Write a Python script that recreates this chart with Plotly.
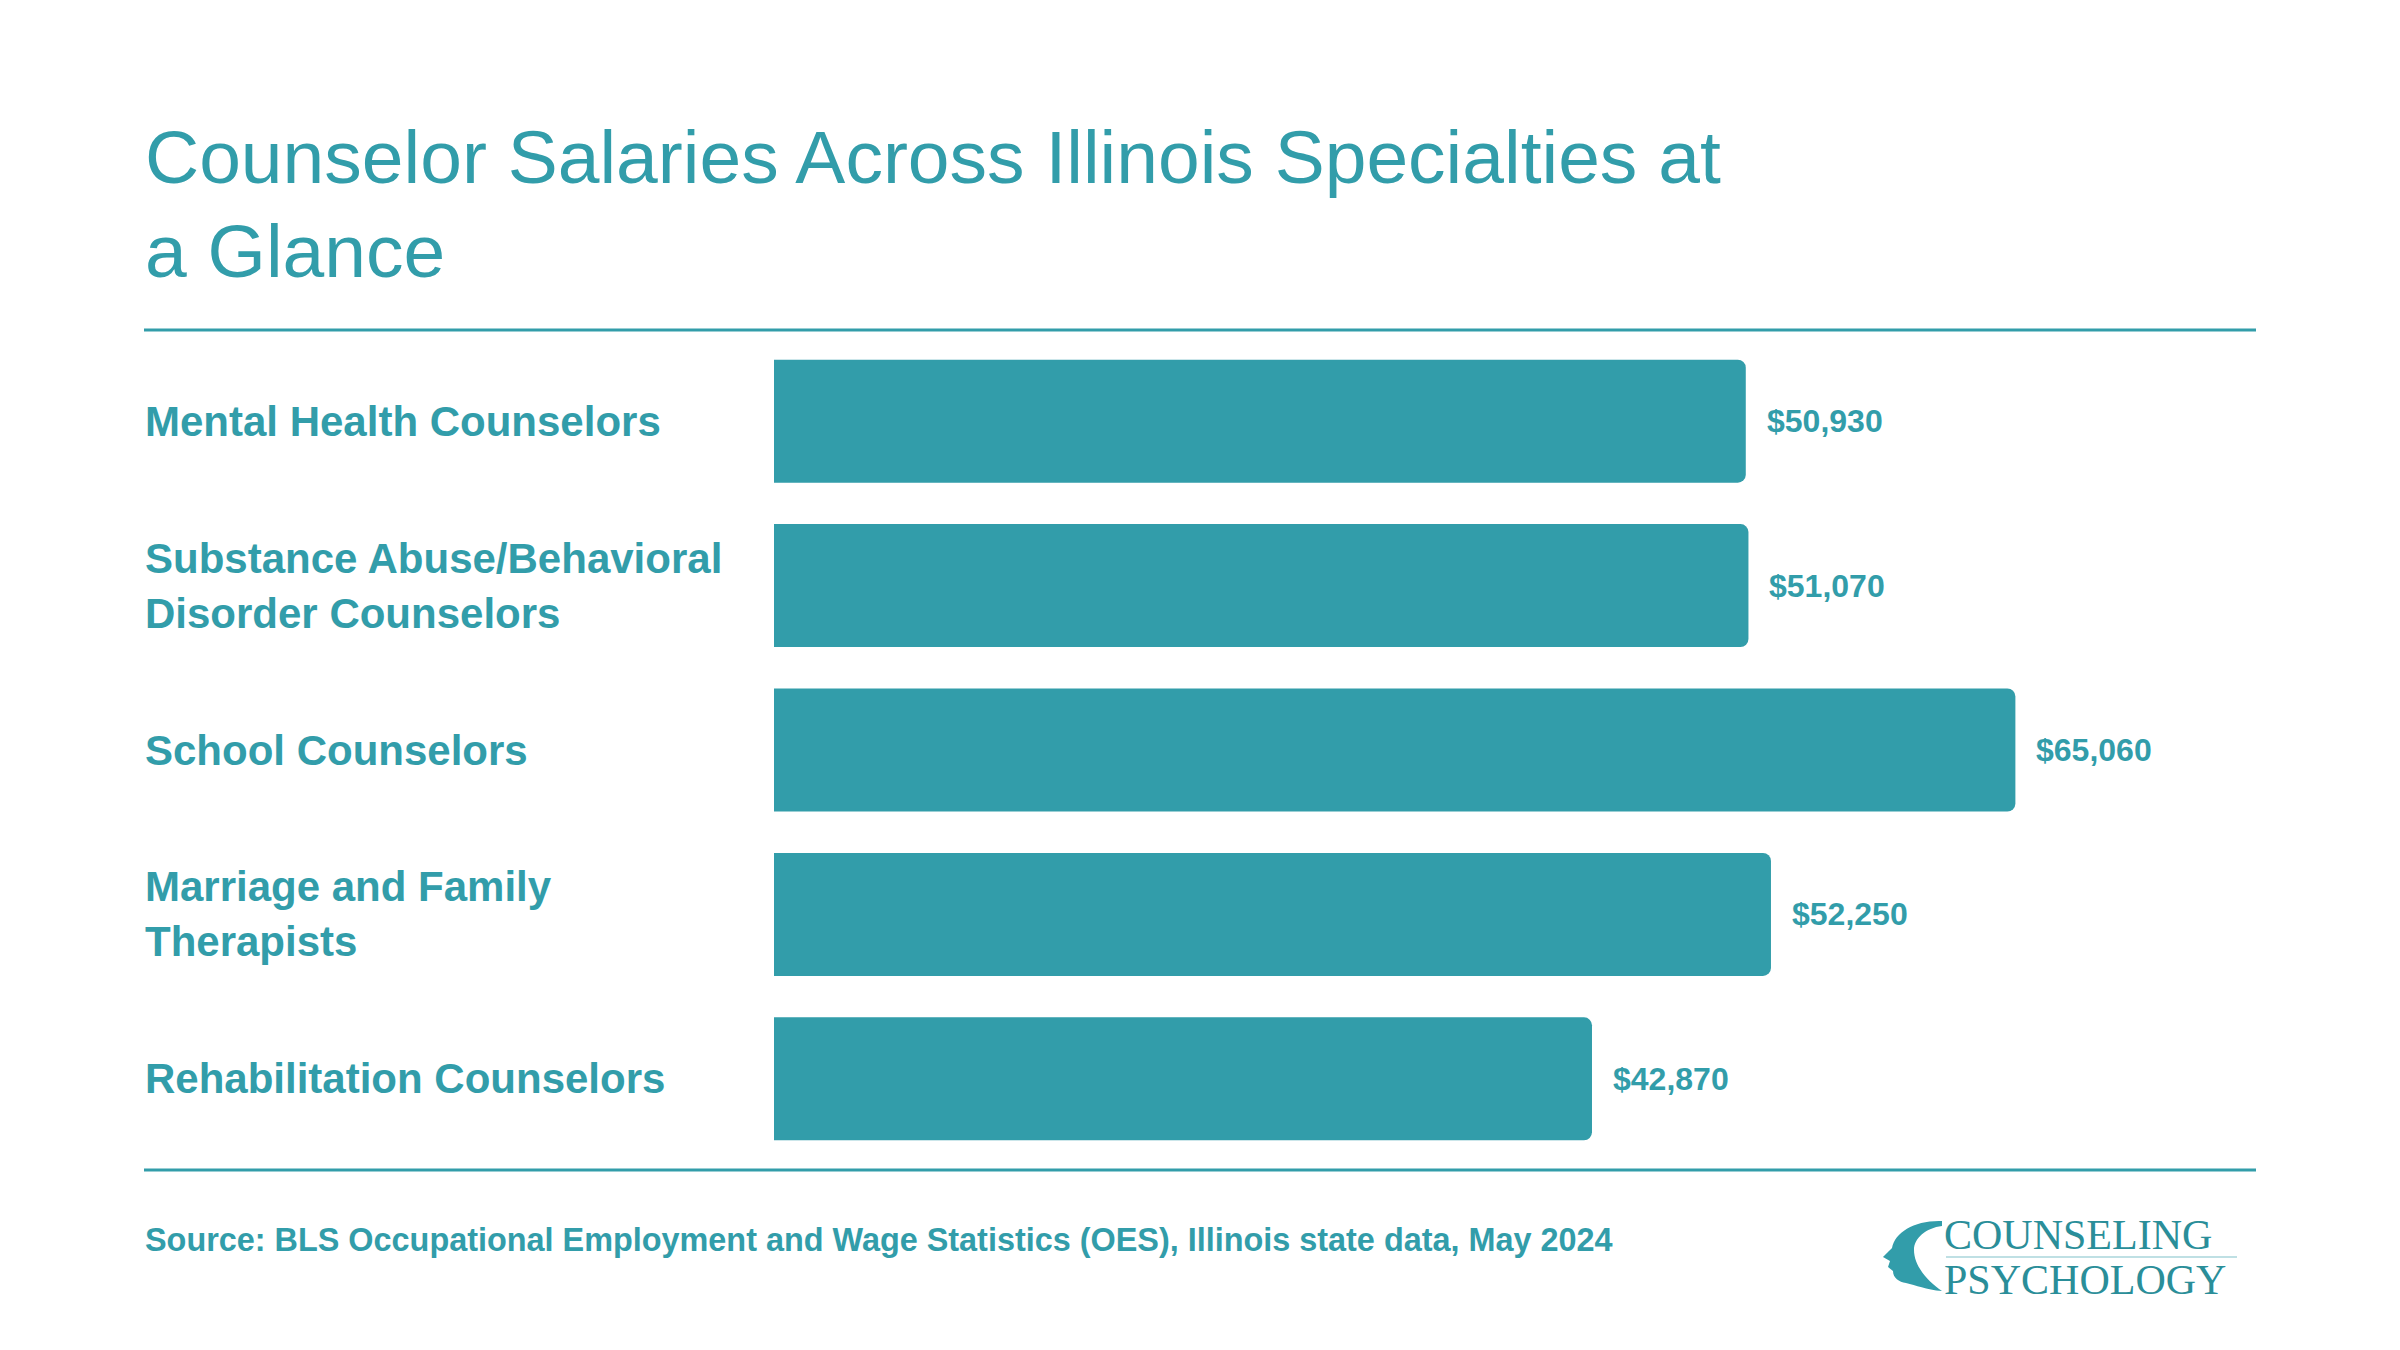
import plotly.graph_objects as go

# ---------------- data ----------------
categories = [
    "Mental Health Counselors",
    "Substance Abuse/Behavioral<br>Disorder Counselors",
    "School Counselors",
    "Marriage and Family<br>Therapists",
    "Rehabilitation Counselors",
]
salaries = [50930, 51070, 65060, 52250, 42870]
value_labels = ["$50,930", "$51,070", "$65,060", "$52,250", "$42,870"]

title_lines = ["Counselor Salaries Across Illinois Specialties at", "a Glance"]
source_text = "Source: BLS Occupational Employment and Wage Statistics (OES), Illinois state data, May 2024"

# ---------------- layout constants ----------------
W, H = 2400, 1350
ML, MR, MT, MB = 774, 144, 339, 189
PW, PH = W - ML - MR, H - MT - MB
TEAL = "#329DAA"
DARK_TEAL = "#2A8E99"
FONT = "Liberation Sans, Arial, Helvetica, sans-serif"
SERIF = "Liberation Serif, Times New Roman, serif"


def px_x(x):
    return (x - ML) / PW


def px_y(y):
    return (H - MB - y) / PH


fig = go.Figure()
fig.add_trace(go.Bar(
    x=salaries,
    y=categories,
    orientation="h",
    marker=dict(color=TEAL, cornerradius=8, line=dict(width=0)),
    hoverinfo="skip",
))

annotations = []
# title (two lines, exact spacing)
for i, line in enumerate(title_lines):
    annotations.append(dict(
        text=line, x=px_x(143), xref="paper", y=px_y(157 + 94 * i), yref="paper",
        xanchor="left", yanchor="middle", showarrow=False,
        font=dict(family=FONT, size=75, color=TEAL),
    ))
# category labels (left aligned)
for c in categories:
    annotations.append(dict(
        text=c, x=px_x(143), xref="paper", y=c, yref="y",
        xanchor="left", yanchor="middle", align="left", showarrow=False,
        font=dict(family=FONT, size=42, color=TEAL, weight="bold"),
    ))
# value labels
for c, v, lab in zip(categories, salaries, value_labels):
    annotations.append(dict(
        text=lab, x=v, xref="x", y=c, yref="y",
        xanchor="left", yanchor="middle", xshift=19, showarrow=False,
        font=dict(family=FONT, size=32, color=TEAL, weight="bold"),
    ))
# source
annotations.append(dict(
    text=source_text, x=px_x(143), xref="paper", y=px_y(1240), yref="paper",
    xanchor="left", yanchor="middle", showarrow=False,
    font=dict(family=FONT, size=32.4, color=TEAL, weight="bold"),
))
# logo text
annotations.append(dict(
    text="COUNSELING", x=px_x(1942), xref="paper", y=px_y(1235), yref="paper",
    xanchor="left", yanchor="middle", showarrow=False,
    font=dict(family=SERIF, size=42, color=DARK_TEAL),
))
annotations.append(dict(
    text="PSYCHOLOGY", x=px_x(1942), xref="paper", y=px_y(1280), yref="paper",
    xanchor="left", yanchor="middle", showarrow=False,
    font=dict(family=SERIF, size=42, color=DARK_TEAL),
))

shapes = []
for yy in (330, 1170):
    shapes.append(dict(
        type="line", xref="paper", yref="paper",
        x0=px_x(144), x1=px_x(2256), y0=px_y(yy), y1=px_y(yy),
        line=dict(color=TEAL, width=3),
    ))
# logo separator line
shapes.append(dict(
    type="line", xref="paper", yref="paper",
    x0=px_x(1946), x1=px_x(2237), y0=px_y(1257), y1=px_y(1257),
    line=dict(color="#BFE0E4", width=2),
))

# logo head silhouette (decoration)
head_cmds = [
    ("M", [(1942, 1221)]),
    ("C", [(1915, 1220), (1895, 1232), (1892, 1248)]),
    ("L", [(1883, 1257)]),
    ("L", [(1890, 1261)]),
    ("L", [(1888, 1267)]),
    ("L", [(1893, 1271)]),
    ("C", [(1893, 1278), (1899, 1282), (1906, 1283)]),
    ("C", [(1916, 1285), (1926, 1290), (1942, 1291)]),
    ("C", [(1926, 1280), (1914, 1265), (1914, 1250)]),
    ("C", [(1914, 1238), (1926, 1228), (1942, 1226)]),
]
path = ""
for cmd, pts in head_cmds:
    path += cmd + " " + " ".join(f"{px_x(a):.5f},{px_y(b):.5f}" for a, b in pts) + " "
path += "Z"
shapes.append(dict(type="path", xref="paper", yref="paper", path=path,
                   fillcolor=TEAL, line=dict(width=0)))

fig.update_layout(
    width=W, height=H,
    margin=dict(l=ML, r=MR, t=MT, b=MB, pad=0),
    paper_bgcolor="white", plot_bgcolor="white",
    showlegend=False,
    bargap=0.252,
    xaxis=dict(range=[0, 77670], visible=False, showgrid=False, zeroline=False, fixedrange=True),
    yaxis=dict(categoryorder="array", categoryarray=categories, autorange="reversed",
               visible=False, showgrid=False, zeroline=False, fixedrange=True),
    annotations=annotations,
    shapes=shapes,
)

fig.write_html("out.html", config={"displayModeBar": False})
